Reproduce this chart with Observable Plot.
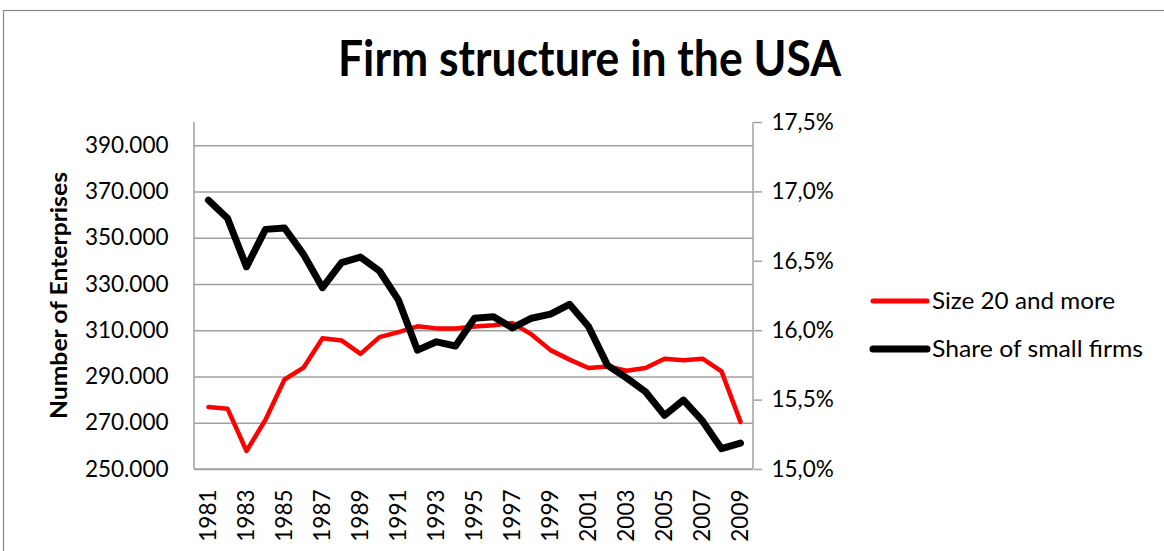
<!DOCTYPE html>
<html>
<head>
<meta charset="utf-8">
<script src="https://cdn.jsdelivr.net/npm/d3@7"></script>
<script src="https://cdn.jsdelivr.net/npm/@observablehq/plot@0.6"></script>
<style>
  html, body { margin: 0; padding: 0; background: #fff; }
  #wrap { position: relative; width: 1164px; height: 551px; overflow: hidden; background: #fff; }
  #wrap > svg { position: absolute; left: 0; top: 0; }
  #overlay { position: absolute; left: 0; top: 0; pointer-events: none; }
</style>
</head>
<body>
<div id="wrap"></div>
<script>
// ---- data ----
const years = [1981, 1982, 1983, 1984, 1985, 1986, 1987, 1988, 1989, 1990,
               1991, 1992, 1993, 1994, 1995, 1996, 1997, 1998, 1999, 2000,
               2001, 2002, 2003, 2004, 2005, 2006, 2007, 2008, 2009];
const sizeTwentyPlus = [277000, 276300, 258000, 271500, 288900, 294000, 306700, 305800, 300000, 307200,
                        309400, 311900, 311000, 311000, 311800, 312400, 313300, 308400, 301600, 297500,
                        293900, 294500, 292700, 293900, 297900, 297200, 297900, 292400, 270600];
const smallShare = [16.94, 16.81, 16.46, 16.73, 16.74, 16.55, 16.31, 16.49, 16.53, 16.43,
                    16.22, 15.86, 15.92, 15.89, 16.09, 16.10, 16.02, 16.09, 16.12, 16.19,
                    16.03, 15.75, 15.66, 15.56, 15.39, 15.50, 15.35, 15.15, 15.19];
const yearTicks = [1981, 1983, 1985, 1987, 1989, 1991, 1993, 1995, 1997, 1999, 2001, 2003, 2005, 2007, 2009];
const leftTicks = [250000, 270000, 290000, 310000, 330000, 350000, 370000, 390000];
const rightTicks = [15.0, 15.5, 16.0, 16.5, 17.0, 17.5];
const leftDomain = [250000, 400000];
const rightDomain = [15.0, 17.5];
const seriesNames = ["Size 20 and more", "Share of small firms"];
const seriesColors = ["#ff0000", "#000000"];
const titleText = "Firm structure in the USA";
const yTitle = "Number of Enterprises";

// map the secondary (percent) axis onto the primary one
const toLeft = p => leftDomain[0] + (p - rightDomain[0]) / (rightDomain[1] - rightDomain[0]) * (leftDomain[1] - leftDomain[0]);
const toPct = v => rightDomain[0] + (v - leftDomain[0]) / (leftDomain[1] - leftDomain[0]) * (rightDomain[1] - rightDomain[0]);

const rows = years.map((year, i) => ({year, size: sizeTwentyPlus[i], share: toLeft(smallShare[i])}));

const FONT = "Lato, 'Open Sans', sans-serif";
const grid = "#a0a0a0";

const chart = Plot.plot({
  width: 1164,
  height: 551,
  marginLeft: 194,
  marginRight: 411,
  marginTop: 122,
  marginBottom: 82,
  style: {fontFamily: FONT, fontSize: "22.5px", color: "#000", background: "transparent", overflow: "visible"},
  x: {type: "point", domain: years, padding: 0.5},
  y: {domain: leftDomain},
  marks: [
    Plot.gridY(leftTicks, {stroke: grid, strokeOpacity: 1, strokeWidth: 1.5}),
    Plot.axisY(leftTicks, {anchor: "left", tickSize: 0, tickPadding: 26, label: null,
      tickFormat: d => d3.format(",")(d).replace(/,/g, ".")}),
    Plot.axisY(rightTicks.map(toLeft), {anchor: "right", tickSize: 8, tickPadding: 10, label: null,
      stroke: grid, strokeOpacity: 1, strokeWidth: 1.5,
      tickFormat: d => toPct(d).toFixed(1).replace(".", ",") + "%"}),
    Plot.axisX(yearTicks, {anchor: "bottom", tickSize: 0, tickPadding: 20, tickRotate: -90, label: null,
      tickFormat: d => String(d)}),
    Plot.line(rows, {x: "year", y: "size", stroke: seriesColors[0], strokeWidth: 4.5,
      strokeLinejoin: "round", strokeLinecap: "round"}),
    Plot.line(rows, {x: "year", y: "share", stroke: seriesColors[1], strokeWidth: 7,
      strokeLinejoin: "round", strokeLinecap: "round"})
  ]
});

const wrap = document.getElementById("wrap");
wrap.appendChild(chart);

// axis lines derived from the scales
const xr = chart.scale("x").range;
const yr = chart.scale("y").range; // [bottom, top]
const svg = d3.select(chart);
const axisG = svg.append("g").attr("stroke", grid).attr("stroke-width", 1.5);
axisG.append("line").attr("x1", xr[0]).attr("x2", xr[0]).attr("y1", yr[0]).attr("y2", yr[1]);
axisG.append("line").attr("x1", xr[1]).attr("x2", xr[1]).attr("y1", yr[0]).attr("y2", yr[1]);
axisG.append("line").attr("x1", xr[0]).attr("x2", xr[1]).attr("y1", yr[0]).attr("y2", yr[0]);
axisG.lower();

// overlay: frame, title, axis title, legend
const ov = d3.select(wrap).append("svg").attr("id", "overlay")
  .attr("width", 1164).attr("height", 551).style("font-family", FONT);
ov.append("rect").attr("x", 3.5).attr("y", 10.5).attr("width", 1200).attr("height", 600)
  .attr("fill", "none").attr("stroke", "#888").attr("stroke-width", 1.2);
ov.append("text").text(titleText).attr("x", 589.5).attr("y", 76).attr("text-anchor", "middle")
  .attr("font-weight", "bold").attr("font-size", 50).attr("textLength", 503).attr("lengthAdjust", "spacingAndGlyphs");
ov.append("text").text(yTitle).attr("transform", "translate(66.5,295.5) rotate(-90)").attr("text-anchor", "middle")
  .attr("font-weight", "bold").attr("font-size", 23).attr("textLength", 247).attr("lengthAdjust", "spacingAndGlyphs");
const legendY = [301, 349];
const legendW = [5, 7];
const legendLen = [183, 211];
seriesNames.forEach((name, i) => {
  ov.append("line").attr("x1", 873).attr("x2", 927).attr("y1", legendY[i]).attr("y2", legendY[i])
    .attr("stroke", seriesColors[i]).attr("stroke-width", legendW[i]).attr("stroke-linecap", "round");
  ov.append("text").text(name).attr("x", 932).attr("y", legendY[i] + 8).attr("font-size", 22.5)
    .attr("textLength", legendLen[i]).attr("lengthAdjust", "spacingAndGlyphs");
});
</script>
</body>
</html>
